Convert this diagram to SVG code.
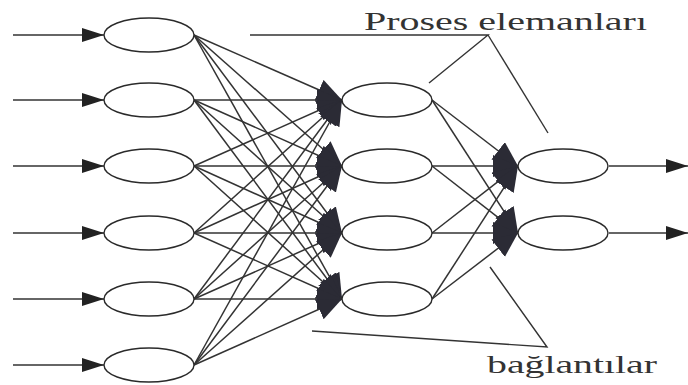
<svg xmlns="http://www.w3.org/2000/svg" width="688" height="385" viewBox="0 0 688 385">
<style>
.n{fill:#fff;stroke:#2a2a2a;stroke-width:1.4}
.c line{stroke:#333;stroke-width:1.5;fill:none}
.io{stroke:#333;stroke-width:1.4}
.lbl{font-family:"Liberation Serif","Times New Roman",serif;font-size:26px;fill:#333}
.ann{stroke:#333;stroke-width:1.4;fill:none}
</style>
<defs>
<marker id="big" markerUnits="userSpaceOnUse" markerWidth="28" markerHeight="24" refX="25" refY="11" orient="auto">
<path d="M0,0 L25,11 L0,22 z" fill="#2b2b35"/>
</marker>
<marker id="sm" markerUnits="userSpaceOnUse" markerWidth="24" markerHeight="16" refX="22" refY="7" orient="auto">
<path d="M0,0 L22,7 L0,14 z" fill="#222"/>
</marker>
</defs>
<rect width="688" height="385" fill="#fff"/>
<g id="inputs" class="io">
<line x1="13" y1="35" x2="104" y2="35" marker-end="url(#sm)"/>
<line x1="13" y1="100" x2="104" y2="100" marker-end="url(#sm)"/>
<line x1="13" y1="166" x2="104" y2="166" marker-end="url(#sm)"/>
<line x1="13" y1="233" x2="104" y2="233" marker-end="url(#sm)"/>
<line x1="13" y1="299" x2="104" y2="299" marker-end="url(#sm)"/>
<line x1="13" y1="365" x2="104" y2="365" marker-end="url(#sm)"/>
<line x1="609" y1="166" x2="688" y2="166" marker-end="url(#sm)"/>
<line x1="609" y1="233" x2="688" y2="233" marker-end="url(#sm)"/>
</g>
<g id="connectors" class="c">
<line x1="194" y1="35" x2="342" y2="100" marker-end="url(#big)"/>
<line x1="194" y1="35" x2="342" y2="166" marker-end="url(#big)"/>
<line x1="194" y1="35" x2="342" y2="233" marker-end="url(#big)"/>
<line x1="194" y1="35" x2="342" y2="299" marker-end="url(#big)"/>
<line x1="194" y1="100" x2="342" y2="100" marker-end="url(#big)"/>
<line x1="194" y1="100" x2="342" y2="166" marker-end="url(#big)"/>
<line x1="194" y1="100" x2="342" y2="233" marker-end="url(#big)"/>
<line x1="194" y1="100" x2="342" y2="299" marker-end="url(#big)"/>
<line x1="194" y1="166" x2="342" y2="100" marker-end="url(#big)"/>
<line x1="194" y1="166" x2="342" y2="166" marker-end="url(#big)"/>
<line x1="194" y1="166" x2="342" y2="233" marker-end="url(#big)"/>
<line x1="194" y1="166" x2="342" y2="299" marker-end="url(#big)"/>
<line x1="194" y1="233" x2="342" y2="100" marker-end="url(#big)"/>
<line x1="194" y1="233" x2="342" y2="166" marker-end="url(#big)"/>
<line x1="194" y1="233" x2="342" y2="233" marker-end="url(#big)"/>
<line x1="194" y1="233" x2="342" y2="299" marker-end="url(#big)"/>
<line x1="194" y1="299" x2="342" y2="100" marker-end="url(#big)"/>
<line x1="194" y1="299" x2="342" y2="166" marker-end="url(#big)"/>
<line x1="194" y1="299" x2="342" y2="233" marker-end="url(#big)"/>
<line x1="194" y1="299" x2="342" y2="299" marker-end="url(#big)"/>
<line x1="194" y1="365" x2="342" y2="100" marker-end="url(#big)"/>
<line x1="194" y1="365" x2="342" y2="166" marker-end="url(#big)"/>
<line x1="194" y1="365" x2="342" y2="233" marker-end="url(#big)"/>
<line x1="194" y1="365" x2="342" y2="299" marker-end="url(#big)"/>
<line x1="432" y1="100" x2="518" y2="166" marker-end="url(#big)"/>
<line x1="432" y1="100" x2="518" y2="233" marker-end="url(#big)"/>
<line x1="432" y1="166" x2="518" y2="166" marker-end="url(#big)"/>
<line x1="432" y1="166" x2="518" y2="233" marker-end="url(#big)"/>
<line x1="432" y1="233" x2="518" y2="166" marker-end="url(#big)"/>
<line x1="432" y1="233" x2="518" y2="233" marker-end="url(#big)"/>
<line x1="432" y1="299" x2="518" y2="166" marker-end="url(#big)"/>
<line x1="432" y1="299" x2="518" y2="233" marker-end="url(#big)"/>
</g>
<g id="in1"><ellipse class="n" cx="149" cy="35" rx="45" ry="17"/></g>
<g id="in2"><ellipse class="n" cx="149" cy="100" rx="45" ry="17"/></g>
<g id="in3"><ellipse class="n" cx="149" cy="166" rx="45" ry="17"/></g>
<g id="in4"><ellipse class="n" cx="149" cy="233" rx="45" ry="17"/></g>
<g id="in5"><ellipse class="n" cx="149" cy="299" rx="45" ry="17"/></g>
<g id="in6"><ellipse class="n" cx="149" cy="365" rx="45" ry="17"/></g>
<g id="h1"><ellipse class="n" cx="387" cy="100" rx="45" ry="17"/></g>
<g id="h2"><ellipse class="n" cx="387" cy="166" rx="45" ry="17"/></g>
<g id="h3"><ellipse class="n" cx="387" cy="233" rx="45" ry="17"/></g>
<g id="h4"><ellipse class="n" cx="387" cy="299" rx="45" ry="17"/></g>
<g id="o1"><ellipse class="n" cx="563" cy="166" rx="45" ry="17"/></g>
<g id="o2"><ellipse class="n" cx="563" cy="233" rx="45" ry="17"/></g>
<g id="label-proses">
<text class="lbl" x="364" y="30" textLength="283" lengthAdjust="spacingAndGlyphs">Proses elemanları</text>
<polyline class="ann" points="250,35 488,35 429,83"/>
<line class="ann" x1="488" y1="35" x2="548" y2="133"/>
</g>
<g id="label-baglantilar">
<text class="lbl" x="487" y="373" textLength="170" lengthAdjust="spacingAndGlyphs">bağlantılar</text>
<polyline class="ann" points="312,331 547,347 490,267"/>
</g>
</svg>
